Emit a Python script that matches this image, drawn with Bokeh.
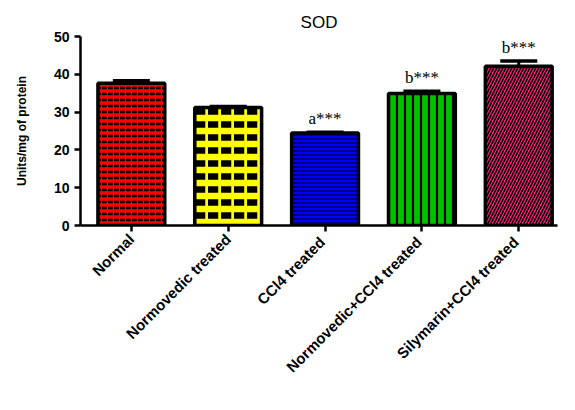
from bokeh.plotting import figure
from bokeh.models import ColumnDataSource, Whisker, TeeHead, FixedTicker, Range1d, LabelSet, Title
from bokeh.embed import file_html
from bokeh.resources import INLINE
from math import pi

# data
groups = ["Normal", "Normovedic treated", "CCl4  treated", "Normovedic+CCl4  treated", "Silymarin+CCl4  treated"]
means = [37.6, 31.2, 24.5, 34.9, 42.1]
errors = [0.7, 0.3, 0.2, 0.6, 1.4]
marks = ["", "", "a***", "b***", "b***"]
fills = ["#ff0000", "#ffff00", "#0000ff", "#00c000", "#ff2080"]
hatches = ["horizontal_dash", "horizontal_dash", "horizontal_line", "vertical_line", "right_diagonal_line"]
y_ticks = [0, 10, 20, 30, 40, 50]

# pattern styles
h_scale = [6, 13, 4, 8, 6]
h_weight = [2.5, 6.5, 1.0, 2.2, 1.6]

xs = list(range(len(groups)))
src = ColumnDataSource(dict(
    x=xs, top=means, err_hi=[m + e for m, e in zip(means, errors)],
    lab_y=[m + e for m, e in zip(means, errors)], mark=marks,
))

p = figure(width=559, height=394, output_backend="svg", toolbar_location=None,
           x_range=Range1d(-0.525, 4.40), y_range=Range1d(0, 50),
           min_border_left=80, min_border_right=2, min_border_top=36, min_border_bottom=169)
p.title = None
p.add_layout(Title(text="SOD", align="center", text_font="Liberation Sans", text_color="black",
                   text_font_size="17px", text_font_style="normal", offset=-18), "above")
p.outline_line_color = None
p.grid.visible = False

for i in xs:
    p.vbar(x=[xs[i]], top=[means[i]], bottom=0, width=0.69,
           fill_color=fills[i], line_color="black", line_width=3.5,
           hatch_pattern=hatches[i], hatch_color="black", hatch_scale=h_scale[i], hatch_weight=h_weight[i])

w = Whisker(base="x", lower="top", upper="err_hi", source=src, line_color="black", line_width=3,
            upper_head=TeeHead(size=37, line_color="black", line_width=3.5),
            lower_head=None)
p.add_layout(w)

labels = LabelSet(x="x", y="lab_y", text="mark", source=src, text_align="center", text_color="black",
                  y_offset=4, text_font="Liberation Serif", text_font_size="17px")
p.add_layout(labels)

p.yaxis.ticker = FixedTicker(ticks=y_ticks)
p.yaxis.axis_label = "Units/mg of protein"
p.yaxis.axis_label_text_font = "Liberation Sans"
p.yaxis.axis_label_text_font_style = "bold"
p.yaxis.axis_label_text_font_size = "12px"
p.yaxis.axis_label_text_color = "black"
p.yaxis.axis_label_standoff = 22
p.xaxis.ticker = FixedTicker(ticks=xs)
p.xaxis.major_label_overrides = {i: g for i, g in enumerate(groups)}
p.xaxis.major_label_orientation = pi / 4
for ax in (p.xaxis, p.yaxis):
    ax.axis_line_width = 2.5
    ax.axis_line_color = "black"
    ax.major_tick_line_width = 2.5
    ax.major_tick_line_color = "black"
    ax.major_tick_out = 6
    ax.major_tick_in = 0
    ax.minor_tick_line_color = None
    ax.major_label_text_font = "Liberation Sans"
    ax.major_label_text_font_style = "bold"
    ax.major_label_text_color = "black"
p.yaxis.major_label_text_font_size = "14px"
p.xaxis.major_label_text_font_size = "15px"

open("out.html", "w").write(file_html(p, INLINE))
